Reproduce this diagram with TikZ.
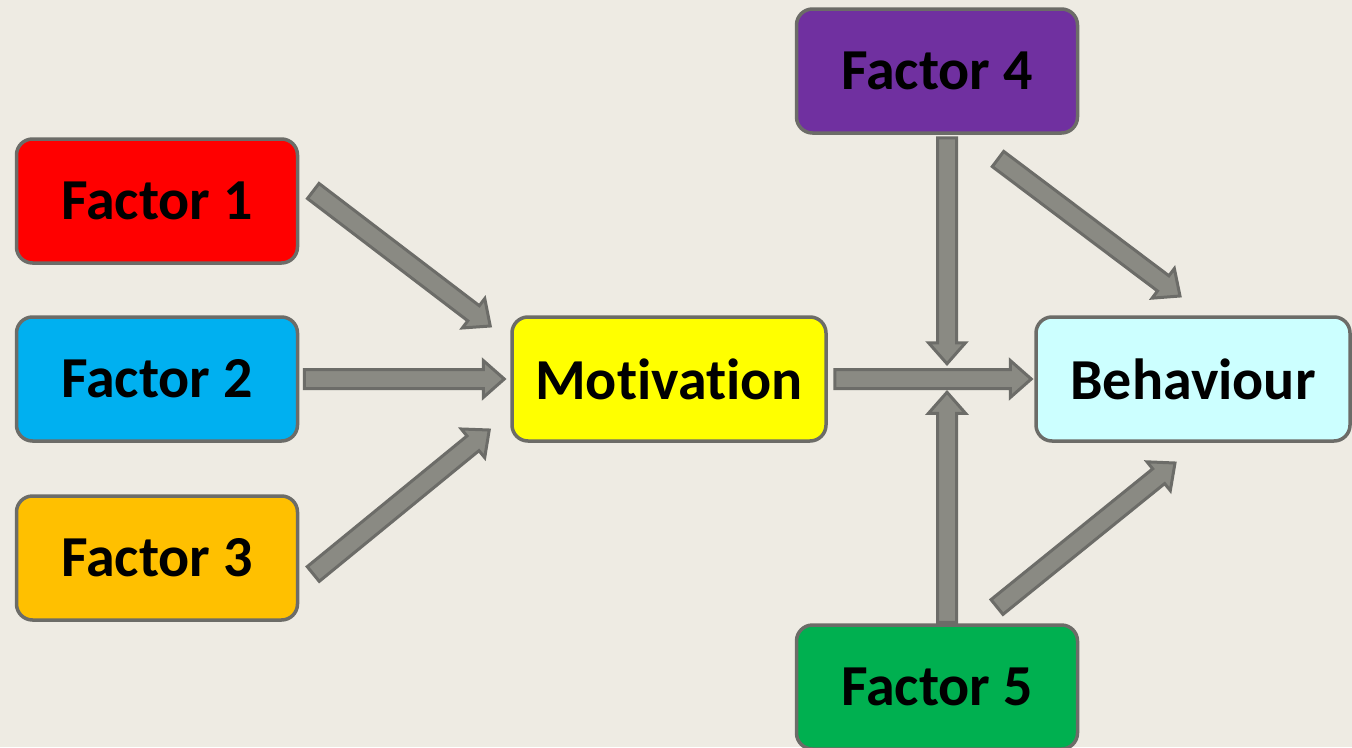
\documentclass[tikz,border=0pt]{standalone}
\usepackage{fontspec}
\setmainfont{Carlito}[Ligatures=NoCommon]
\usetikzlibrary{calc}

\definecolor{bg}{HTML}{EEEBE3}
\definecolor{edge}{HTML}{6C6C68}
\definecolor{shaft}{HTML}{8A8A83}
\definecolor{cred}{HTML}{FF0000}
\definecolor{cblue}{HTML}{00B0F0}
\definecolor{corange}{HTML}{FFC000}
\definecolor{cyellow}{HTML}{FFFF00}
\definecolor{cpurple}{HTML}{7030A0}
\definecolor{ccyan}{HTML}{CCFFFF}
\definecolor{cgreen}{HTML}{00B050}

\tikzset{
  factorbox/.style={draw=edge, line width=3.5pt, rounded corners=16pt,
    minimum width=281pt, minimum height=124pt, inner sep=0pt,
    font=\fontsize{58}{60}\selectfont\bfseries, text=black},
  mainbox/.style={factorbox, minimum width=314pt},
  blockarrow/.style={draw=edge, fill=shaft, line width=3pt, line join=miter}
}

% block arrow from #1 (tail) to #2 (tip)
\newcommand\blockarrow[2]{%
  \path[blockarrow]
    ($(#1)!9.5pt!90:(#2)$) --
    ($($(#2)!21pt!(#1)$)!9.5pt!-90:(#1)$) --
    ($($(#2)!21pt!(#1)$)!18.5pt!-90:(#1)$) --
    (#2) --
    ($($(#2)!21pt!(#1)$)!18.5pt!90:(#1)$) --
    ($($(#2)!21pt!(#1)$)!9.5pt!90:(#1)$) --
    ($(#1)!9.5pt!-90:(#2)$) -- cycle;}

\begin{document}
\begin{tikzpicture}[x=1pt, y=-1pt]
  \fill[bg] (0,0) rectangle (1352,747);
  \useasboundingbox (0,0) rectangle (1352,747);

  \node[factorbox, fill=cred]    (f1)  at (157,201) {Factor 1};
  \node[factorbox, fill=cblue]   (f2)  at (157,379) {Factor 2};
  \node[factorbox, fill=corange] (f3)  at (157,558) {Factor 3};
  \node[mainbox,   fill=cyellow] (mot) at (669,379) {Motivation};
  \node[factorbox, fill=cpurple] (f4)  at (937,71)  {Factor 4};
  \node[mainbox,   fill=ccyan]   (beh) at (1193,379) {Behaviour};
  \node[factorbox, fill=cgreen]  (f5)  at (937,687) {Factor 5};

  % arrow ends
  \coordinate (t1)  at ($(f1.east)+(14,-10)$);
  \coordinate (h1)  at ($(mot.west)+(-20,-53)$);
  \coordinate (t2)  at ($(f2.east)+(5,0)$);
  \coordinate (h2)  at ($(mot.west)+(-6,0)$);
  \coordinate (t3)  at ($(f3.east)+(14,16)$);
  \coordinate (h3)  at ($(mot.west)+(-21,51)$);
  \coordinate (tm)  at ($(mot.east)+(7,0)$);
  \coordinate (hm)  at ($(beh.west)+(-3,0)$);
  \coordinate (t4)  at ($(f4.south)+(10,3)$);
  \coordinate (h4)  at ($(f4.south)+(10,229)$);
  \coordinate (t5)  at ($(f5.north)+(10,-1)$);
  \coordinate (h5)  at ($(f5.north)+(10,-231)$);
  \coordinate (t4b) at (998,159);
  \coordinate (h4b) at (1180,296);
  \coordinate (t5b) at (997,607);
  \coordinate (h5b) at (1175,463);

  \blockarrow{t1}{h1}
  \blockarrow{t2}{h2}
  \blockarrow{t3}{h3}
  \blockarrow{tm}{hm}
  \blockarrow{t4}{h4}
  \blockarrow{t5}{h5}
  \blockarrow{t4b}{h4b}
  \blockarrow{t5b}{h5b}
\end{tikzpicture}
\end{document}
